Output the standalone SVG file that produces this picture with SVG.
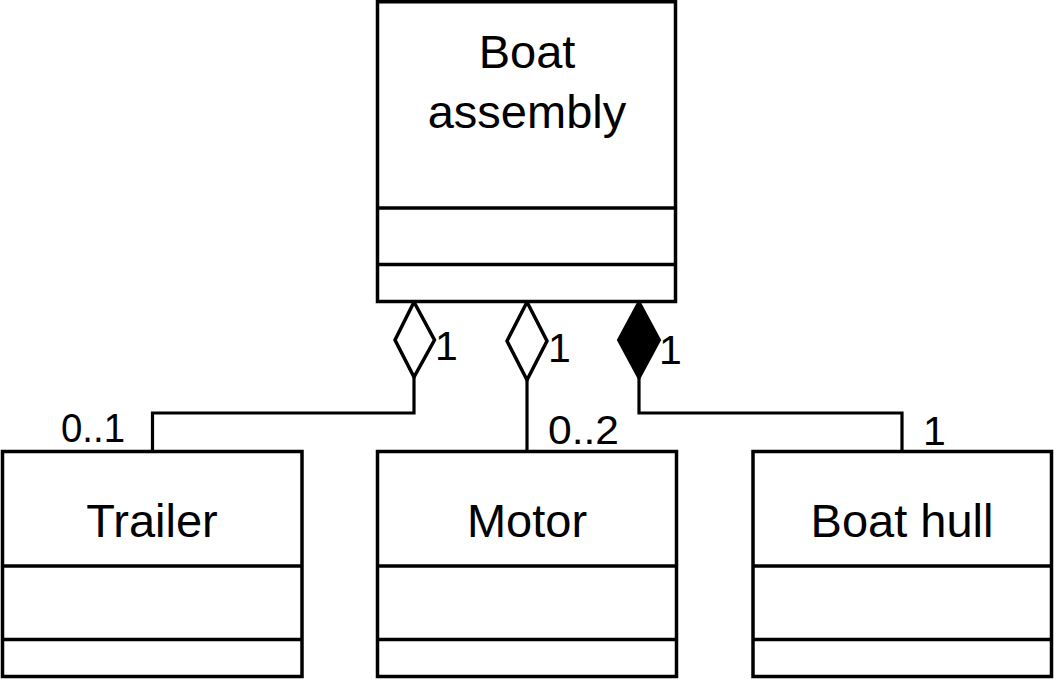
<svg xmlns="http://www.w3.org/2000/svg" width="1054" height="679" viewBox="0 0 1054 679">
  <style>
    .box { fill: #ffffff; stroke: #000000; stroke-width: 3.5; }
    .div { stroke: #000000; stroke-width: 3.5; }
    .name { font-family: "Liberation Sans", Arial, sans-serif; font-size: 47px; fill: #000000; text-anchor: middle; }
    .mult { font-family: "Liberation Sans", Arial, sans-serif; font-size: 41px; fill: #000000; }
    .conn { fill: none; stroke: #000000; stroke-width: 3.2; }
    .agg { fill: #ffffff; stroke: #000000; stroke-width: 3.5; stroke-linejoin: miter; }
    .comp { fill: #000000; stroke: #000000; stroke-width: 3; }
  </style>
  <rect x="0" y="0" width="1054" height="679" fill="#ffffff"/>

  <g id="connectors">
    <path class="conn" d="M414,377 V413 H152.5 V452"/>
    <path class="conn" d="M527,380 V452"/>
    <path class="conn" d="M639,378 V413 H902 V452"/>
    <polygon class="agg" points="414,302 434.5,340 414,377 395,340"/>
    <polygon class="agg" points="527,302 547,341 527,380 507,341"/>
    <polygon class="comp" points="639,302 659.5,340 639,378 618.5,340"/>
    <text class="mult" x="435" y="360">1</text>
    <text class="mult" x="548" y="362">1</text>
    <text class="mult" x="659" y="364">1</text>
    <text class="mult" x="61" y="442" textLength="64" lengthAdjust="spacingAndGlyphs">0..1</text>
    <text class="mult" x="548" y="444" textLength="71" lengthAdjust="spacingAndGlyphs">0..2</text>
    <text class="mult" x="923" y="445">1</text>
  </g>

  <g id="boat-assembly">
    <rect class="box" x="377.5" y="1.75" width="298" height="299.75"/>
    <line class="div" x1="377.5" y1="208" x2="675.5" y2="208"/>
    <line class="div" x1="377.5" y1="264.5" x2="675.5" y2="264.5"/>
    <text class="name" x="527" y="68">Boat</text>
    <text class="name" x="527" y="128">assembly</text>
  </g>

  <g id="trailer">
    <rect class="box" x="2.5" y="451.5" width="299.5" height="225"/>
    <line class="div" x1="2.5" y1="566" x2="302" y2="566"/>
    <line class="div" x1="2.5" y1="639.5" x2="302" y2="639.5"/>
    <text class="name" x="152" y="537">Trailer</text>
  </g>

  <g id="motor">
    <rect class="box" x="377.5" y="451.5" width="299" height="225"/>
    <line class="div" x1="377.5" y1="566" x2="676.5" y2="566"/>
    <line class="div" x1="377.5" y1="639.5" x2="676.5" y2="639.5"/>
    <text class="name" x="527" y="537">Motor</text>
  </g>

  <g id="boat-hull">
    <rect class="box" x="753" y="451.5" width="298.5" height="225"/>
    <line class="div" x1="753" y1="566" x2="1051.5" y2="566"/>
    <line class="div" x1="753" y1="639.5" x2="1051.5" y2="639.5"/>
    <text class="name" x="902" y="537">Boat hull</text>
  </g>
</svg>
